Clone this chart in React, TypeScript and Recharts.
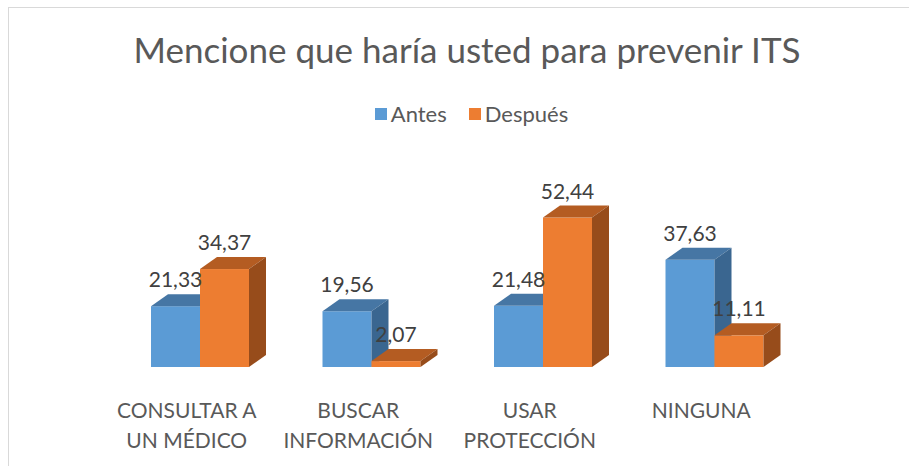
import React from 'react';
import { BarChart, Bar, XAxis, YAxis, Legend, LabelList, Customized } from 'recharts';

const categories = ['CONSULTAR A UN MÉDICO', 'BUSCAR INFORMACIÓN', 'USAR PROTECCIÓN', 'NINGUNA'];
const tickLines = [
  ['CONSULTAR A', 'UN MÉDICO'],
  ['BUSCAR', 'INFORMACIÓN'],
  ['USAR', 'PROTECCIÓN'],
  ['NINGUNA'],
];
const antes = [21.33, 19.56, 21.48, 37.63];
const despues = [34.37, 2.07, 52.44, 11.11];
const seriesNames = ['Antes', 'Después'];
const title = 'Mencione que haría usted para prevenir ITS';

const data = categories.map((name, i) => ({ name, antes: antes[i], despues: despues[i] }));

const FONT = 'Lato, "Open Sans", sans-serif';
const DX = 17;
const DY = 12;
const BLUE = { front: '#5B9BD5', top: '#4676A4', side: '#3A6690' };
const ORANGE = { front: '#ED7D31', top: '#B45C22', side: '#974C1B' };

const fmt = (v: number) => v.toFixed(2).replace('.', ',');

function make3D(c: { front: string; top: string; side: string }) {
  return (p: any) => {
    const { x, y, width, height } = p;
    if (width == null || height == null) return null;
    const b = y + height;
    return (
      <g>
        <rect x={x} y={y} width={width} height={height} fill={c.front} />
        <polygon
          points={`${x},${y} ${x + DX},${y - DY} ${x + width + DX},${y - DY} ${x + width},${y}`}
          fill={c.top}
        />
        <polygon
          points={`${x + width},${y} ${x + width + DX},${y - DY} ${x + width + DX},${b - DY} ${x + width},${b}`}
          fill={c.side}
        />
      </g>
    );
  };
}

const ValueLabel = (p: any) => {
  const { x, y, width, value } = p;
  return (
    <text
      x={x + width / 2}
      y={y - DY - 7}
      textAnchor="middle"
      fontFamily={FONT}
      fontSize={21}
      fill="#404040"
    >
      {fmt(Number(value))}
    </text>
  );
};

const Tick = (p: any) => {
  const { x, y, payload } = p;
  const lines = tickLines[payload.index] || [String(payload.value)];
  return (
    <text x={x - 13} y={y + 51} textAnchor="middle" fontFamily={FONT} fontSize={21} fill="#595959">
      {lines.map((l, i) => (
        <tspan key={i} x={x - 13} dy={i === 0 ? 0 : 30}>
          {l}
        </tspan>
      ))}
    </text>
  );
};

const LegendContent = (p: any) => {
  const items = p.payload || [];
  return (
    <div
      style={{
        display: 'flex',
        justifyContent: 'center',
        alignItems: 'center',
        fontFamily: FONT,
        fontSize: 22,
        lineHeight: '22px',
        color: '#595959',
        paddingLeft: 25,
      }}
    >
      {items.map((it: any, i: number) => (
        <div key={i} style={{ display: 'flex', alignItems: 'center', marginRight: i === items.length - 1 ? 0 : 22 }}>
          <span style={{ display: 'inline-block', width: 12, height: 12, background: it.color, marginRight: 4 }} />
          <span>{it.value}</span>
        </div>
      ))}
    </div>
  );
};

const Title = () => (
  <text x={458} y={55} textAnchor="middle" fontFamily={FONT} fontSize={35} fill="#595959">
    {title}
  </text>
);

export default function App() {
  return (
    <div
      style={{
        position: 'absolute',
        left: 8,
        top: 7,
        width: 901,
        height: 459,
        borderLeft: '1px solid #d9d9d9',
        borderTop: '1px solid #d9d9d9',
        background: '#fff',
        overflow: 'hidden',
      }}
    >
      <BarChart
        width={900}
        height={458}
        data={data}
        margin={{ top: 188, right: 109, bottom: 0, left: 105 }}
        barGap={0}
      >
        <XAxis
          dataKey="name"
          axisLine={false}
          tickLine={false}
          tickSize={0}
          tickMargin={0}
          height={99}
          interval={0}
          tick={<Tick />}
        />
        <YAxis hide domain={[0, 60]} />
        <Legend
          verticalAlign="middle"
          align="center"
          content={<LegendContent />}
          wrapperStyle={{ position: 'absolute', top: 95, left: 0, width: 900 }}
        />
        <Bar
          dataKey="antes"
          name={seriesNames[0]}
          fill={BLUE.front}
          barSize={49}
          isAnimationActive={false}
          shape={make3D(BLUE)}
        >
          <LabelList dataKey="antes" content={<ValueLabel />} />
        </Bar>
        <Bar
          dataKey="despues"
          name={seriesNames[1]}
          fill={ORANGE.front}
          barSize={49}
          isAnimationActive={false}
          shape={make3D(ORANGE)}
        >
          <LabelList dataKey="despues" content={<ValueLabel />} />
        </Bar>
        <Customized component={<Title />} />
      </BarChart>
    </div>
  );
}
